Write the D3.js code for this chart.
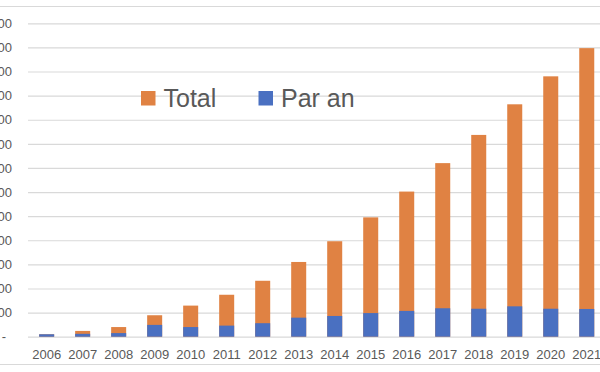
<!DOCTYPE html>
<html>
<head>
<meta charset="utf-8">
<script src="https://cdn.jsdelivr.net/npm/d3@7"></script>
<style>
  html, body { margin: 0; padding: 0; background: #fff; }
  svg { display: block; font-family: "Liberation Sans", Arial, sans-serif; }
</style>
</head>
<body>
<div id="chart"></div>
<script>
const years = ["2006", "2007", "2008", "2009", "2010", "2011", "2012", "2013",
  "2014", "2015", "2016", "2017", "2018", "2019", "2020", "2021"]
const total = [100, 240, 400, 890, 1290, 1740, 2320, 3100,
  3960, 4950, 6020, 7200, 8370, 9640, 10800, 11970]
const parAn = [100, 120, 150, 490, 400, 460, 560, 790,
  860, 980, 1070, 1180, 1160, 1260, 1160, 1150]
const yTicks = [0, 1000, 2000, 3000, 4000, 5000, 6000, 7000,
  8000, 9000, 10000, 11000, 12000, 13000]
const seriesNames = ["Total", "Par an"]
const colors = ["#e08243", "#4a70c1"]

const width = 600
const height = 372

const svg = d3.select("#chart")
  .append("svg")
  .attr("width", width)
  .attr("height", height)

// chart frame (left side is off the picture)
svg.append("rect")
  .attr("x", -20).attr("y", 6.5)
  .attr("width", width + 40).attr("height", 358)
  .attr("fill", "none")
  .attr("stroke", "#d9d9d9")

const x = d3.scaleBand().domain(years).range([28.7, 604.7]).paddingInner(0.583).paddingOuter(0.29)
const y = d3.scaleLinear().domain([0, 13000]).range([336.7, 23.3])

// grid + y labels (the labels run off the left edge, as in the picture)
const fmt = v => v === 0 ? "-" : d3.format(",")(v).replace(/,/g, "\u00a0")
const yAxis = d3.axisLeft(y).tickValues(yTicks).tickSize(-(width - 28)).tickFormat(fmt)
const gy = svg.append("g")
  .attr("transform", "translate(28,0)")
  .call(yAxis)
gy.select(".domain").remove()
gy.selectAll(".tick line").attr("stroke", "#d9d9d9").attr("stroke-width", 1.2)
gy.selectAll(".tick text")
  .attr("x", -16)
  .attr("fill", "#595959")
  .style("font-size", "13px")
  .style("font-family", "Liberation Sans, Arial, sans-serif")
gy.selectAll(".tick text").filter(d => d === 0).attr("x", -22)

// bars: Total drawn first, Par an overlaps on top
svg.append("g").selectAll("rect")
  .data(years)
  .join("rect")
  .attr("x", d => x(d))
  .attr("width", x.bandwidth())
  .attr("y", (d, i) => y(total[i]))
  .attr("height", (d, i) => y(0) - y(total[i]))
  .attr("fill", colors[0])
svg.append("g").selectAll("rect")
  .data(years)
  .join("rect")
  .attr("x", d => x(d))
  .attr("width", x.bandwidth())
  .attr("y", (d, i) => y(parAn[i]))
  .attr("height", (d, i) => y(0) - y(parAn[i]))
  .attr("fill", colors[1])

// x axis labels
const xAxis = d3.axisBottom(x).tickSize(0).tickPadding(13)
const gx = svg.append("g")
  .attr("transform", "translate(0," + y(0) + ")")
  .call(xAxis)
gx.select(".domain").remove()
gx.selectAll(".tick text")
  .attr("fill", "#595959")
  .style("font-size", "13px")
  .style("font-family", "Liberation Sans, Arial, sans-serif")

// legend
const legendX = [141, 258.5]
const legend = svg.append("g").selectAll("g")
  .data(seriesNames)
  .join("g")
  .attr("transform", (d, i) => "translate(" + legendX[i] + ",91)")
legend.append("rect")
  .attr("width", 14.5).attr("height", 14.5)
  .attr("fill", (d, i) => colors[i])
legend.append("text")
  .attr("x", 22.5).attr("y", 15.7)
  .attr("fill", "#595959")
  .style("font-size", "25px")
  .text(d => d)
</script>
</body>
</html>
